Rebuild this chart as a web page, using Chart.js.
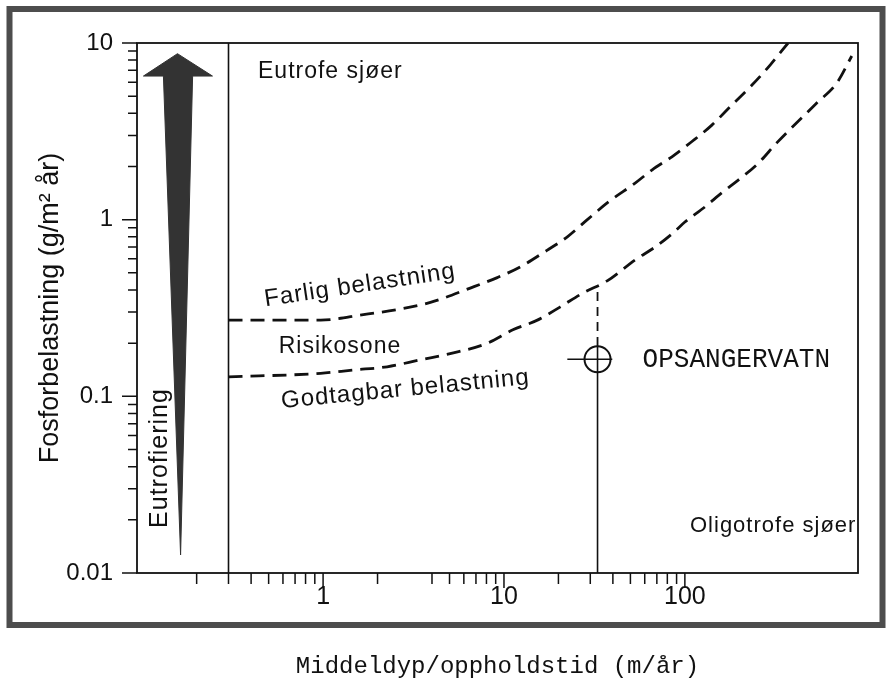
<!DOCTYPE html>
<html>
<head>
<meta charset="utf-8">
<script src="https://cdn.jsdelivr.net/npm/chart.js@4.4.0/dist/chart.umd.min.js"></script>
<style>
  html, body { margin: 0; padding: 0; background: #fff; }
</style>
</head>
<body>
<canvas id="belastningChart" width="887" height="693"></canvas>
<script>
// Fosforbelastning mot middeldyp/oppholdstid, log-log (Vollenweider-diagram)

// farlig belastning (øvre stiplet kurve)
const farligX = [0.3, 0.97, 1.67, 2.57, 3.92, 6.51, 9.18, 12.3, 16.5, 22.4, 28.9, 37.8, 53.1, 65.7, 84.8, 109, 141, 182, 235, 296, 372];
const farligY = [0.27, 0.27, 0.29, 0.31, 0.34, 0.41, 0.47, 0.54, 0.65, 0.80, 1.0, 1.26, 1.61, 1.91, 2.27, 2.76, 3.43, 4.46, 5.78, 7.5, 10];

// godtagbar belastning (nedre stiplet kurve)
const godtagbarX = [0.3, 0.97, 1.47, 2.26, 3.45, 5.25, 8.09, 11.2, 15.3, 20.5, 27.4, 37.2, 53.1, 68.5, 84.8, 100, 129, 160, 198, 255, 322, 536, 692, 837];
const godtagbarY = [0.129, 0.135, 0.141, 0.147, 0.161, 0.176, 0.200, 0.238, 0.270, 0.321, 0.385, 0.45, 0.592, 0.70, 0.83, 0.97, 1.18, 1.42, 1.68, 2.09, 2.72, 4.57, 5.94, 8.44];

// Opsangervatn
const lakeName = 'OPSANGERVATN';
const lakeX = 32.9;
const lakeY = 0.162;
const lakeRangeX = [22.4, 39.7];
const lakeCircleTopY = 0.193;
const lakeCurveY = 0.42;

// grense eutrofiering / sone
const zoneX = 0.3;

// pil "Eutrofiering"
const arrowX = [0.1567, 0.2446, 0.190, 0.163, 0.131, 0.1016, 0.1567];
const arrowY = [8.7, 6.5, 6.5, 0.01265, 6.5, 6.5, 8.7];

// akser
const xMin = 0.0936, xMax = 906;
const yMin = 0.01, yMax = 10;
const xTickValues = [0.2, 0.3, 0.4, 0.5, 0.6, 0.7, 0.8, 0.9, 1, 2, 4, 5, 6, 7, 8, 9, 10, 20, 30, 40, 50, 60, 70, 80, 90, 100];
const xLabelValues = [1, 10, 100];
const xTickLabels = ['1', '10', '100'];
const yTickValues = [0.01, 0.02, 0.03, 0.04, 0.05, 0.06, 0.07, 0.08, 0.09,
                     0.1, 0.2, 0.3, 0.4, 0.5, 0.6, 0.7, 0.8, 0.9,
                     1, 2, 3, 4, 5, 6, 7, 8, 9, 10];
const yLabelValues = [0.01, 0.1, 1, 10];
const yTickLabels = ['0.01', '0.1', '1', '10'];

const xTitle = 'Middeldyp/oppholdstid (m/år)';
const yTitle = 'Fosforbelastning (g/m\u00B2 år)';

const ink = '#111';

function pts(xs, ys) {
    return xs.map((x, i) => ({ x: x, y: ys[i] }));
}

const labels = [
    { text: 'Eutrofe sjøer', x: 258, y: 78, size: 23, align: 'left', angle: 0 },
    { text: 'Farlig belastning', x: 361, y: 292, size: 24, align: 'center', angle: -8.5 },
    { text: 'Risikosone', x: 340, y: 353, size: 23, align: 'center', angle: 0 },
    { text: 'Godtagbar belastning', x: 406, y: 396, size: 24, align: 'center', angle: -5.5 },
    { text: 'Oligotrofe sjøer', x: 690, y: 532, size: 22, align: 'left', angle: 0 },
    { text: 'Eutrofiering', x: 167, y: 458, size: 25, align: 'center', angle: -90 }
];

const decor = {
    id: 'decor',
    beforeDraw(chart) {
        const ctx = chart.ctx;
        ctx.save();
        ctx.fillStyle = '#fff';
        ctx.fillRect(0, 0, chart.width, chart.height);
        ctx.strokeStyle = '#4d4d4d';
        ctx.lineWidth = 6;
        ctx.strokeRect(9.5, 9, 873, 616);
        ctx.restore();
    },
    afterDraw(chart) {
        const ctx = chart.ctx;
        const a = chart.chartArea;
        const x = chart.scales.x, y = chart.scales.y;
        ctx.save();
        ctx.strokeStyle = ink;
        ctx.lineWidth = 1.8;
        ctx.strokeRect(a.left, a.top, a.right - a.left, a.bottom - a.top);

        // tick marks, major longer
        ctx.lineWidth = 1.5;
        ctx.beginPath();
        xTickValues.forEach(v => {
            const px = x.getPixelForValue(v);
            const len = xLabelValues.includes(v) ? 15 : 11;
            ctx.moveTo(px, a.bottom);
            ctx.lineTo(px, a.bottom + len);
        });
        yTickValues.forEach(v => {
            const py = y.getPixelForValue(v);
            const len = yLabelValues.includes(v) ? 15 : 9;
            ctx.moveTo(a.left - len, py);
            ctx.lineTo(a.left, py);
        });
        ctx.stroke();

        // sone-tekster
        ctx.fillStyle = ink;
        ctx.textBaseline = 'alphabetic';
        labels.forEach(l => {
            ctx.save();
            ctx.font = l.size + 'px "Liberation Sans"';
            ctx.letterSpacing = '1px';
            ctx.textAlign = l.align;
            ctx.translate(l.x, l.y);
            ctx.rotate(l.angle * Math.PI / 180);
            ctx.fillText(l.text, 0, 0);
            ctx.restore();
        });

        // innsjønavn, skrivemaskin
        const lx = x.getPixelForValue(lakeX);
        const ly = y.getPixelForValue(lakeY);
        ctx.save();
        ctx.font = '28px "Liberation Mono"';
        ctx.textAlign = 'left';
        ctx.translate(lx + 45, ly + 8);
        ctx.scale(0.93, 1);
        ctx.fillText(lakeName, 0, 0);
        ctx.restore();

        ctx.restore();
    }
};

const solid = { showLine: true, pointRadius: 0, borderColor: ink, borderWidth: 1.6, fill: false };

new Chart(document.getElementById('belastningChart').getContext('2d'), {
    type: 'scatter',
    data: {
        datasets: [
            {
                label: 'Eutrofiering',
                data: pts(arrowX, arrowY),
                showLine: true,
                pointRadius: 0,
                borderWidth: 1,
                borderColor: '#333',
                backgroundColor: '#333',
                fill: 'shape',
                tension: 0
            },
            {
                label: 'Farlig belastning',
                data: pts(farligX, farligY),
                showLine: true,
                pointRadius: 0,
                borderColor: ink,
                borderWidth: 2.8,
                borderDash: [14, 8],
                cubicInterpolationMode: 'monotone',
                fill: false
            },
            {
                label: 'Godtagbar belastning',
                data: pts(godtagbarX, godtagbarY),
                showLine: true,
                pointRadius: 0,
                borderColor: ink,
                borderWidth: 2.8,
                borderDash: [14, 8],
                cubicInterpolationMode: 'monotone',
                fill: false
            },
            Object.assign({ label: 'grense', data: pts([zoneX, zoneX], [yMin, yMax]) }, solid),
            Object.assign({ label: 'lake x', data: pts([lakeX, lakeX], [yMin, lakeCircleTopY]) }, solid),
            Object.assign({ label: 'lake range', data: pts(lakeRangeX, [lakeY, lakeY]) }, solid),
            {
                label: 'lake dash',
                data: pts([lakeX, lakeX], [lakeCircleTopY, lakeCurveY]),
                showLine: true,
                pointRadius: 0,
                borderColor: ink,
                borderWidth: 1.8,
                borderDash: [9, 6],
                fill: false
            },
            {
                label: lakeName,
                data: pts([lakeX], [lakeY]),
                pointRadius: 13,
                pointBorderWidth: 2,
                pointBorderColor: ink,
                pointBackgroundColor: 'rgba(0,0,0,0)',
                showLine: false
            }
        ]
    },
    options: {
        responsive: false,
        animation: false,
        layout: { padding: { top: 43, right: 29, left: 0, bottom: 0 } },
        plugins: {
            legend: { display: false },
            tooltip: { enabled: false }
        },
        scales: {
            x: {
                type: 'logarithmic',
                position: 'bottom',
                min: xMin,
                max: xMax,
                grid: { display: false, drawTicks: false },
                border: { display: false },
                afterBuildTicks: s => { s.ticks = xTickValues.map(v => ({ value: v })); },
                afterFit: s => { s.height = 120; },
                ticks: {
                    autoSkip: false,
                    maxRotation: 0,
                    padding: 9,
                    color: ink,
                    font: { family: 'Liberation Sans', size: 25 },
                    callback: v => {
                        const i = xLabelValues.indexOf(v);
                        return i >= 0 ? xTickLabels[i] : '';
                    }
                },
                title: {
                    display: true,
                    text: xTitle,
                    color: ink,
                    font: { family: 'Liberation Mono', size: 24 },
                    padding: { top: 0, bottom: 12 }
                }
            },
            y: {
                type: 'logarithmic',
                position: 'left',
                min: yMin,
                max: yMax,
                grid: { display: false, drawTicks: false },
                border: { display: false },
                afterBuildTicks: s => { s.ticks = yTickValues.map(v => ({ value: v })); },
                afterFit: s => { s.width = 137; },
                ticks: {
                    autoSkip: false,
                    padding: 24,
                    color: ink,
                    font: { family: 'Liberation Sans', size: 24 },
                    callback: v => {
                        const i = yLabelValues.indexOf(v);
                        return i >= 0 ? yTickLabels[i] : '';
                    }
                },
                title: {
                    display: true,
                    text: yTitle,
                    color: ink,
                    font: { family: 'Liberation Sans', size: 27 },
                    padding: { top: 34, bottom: 0 }
                }
            }
        }
    },
    plugins: [decor]
});
</script>
</body>
</html>
